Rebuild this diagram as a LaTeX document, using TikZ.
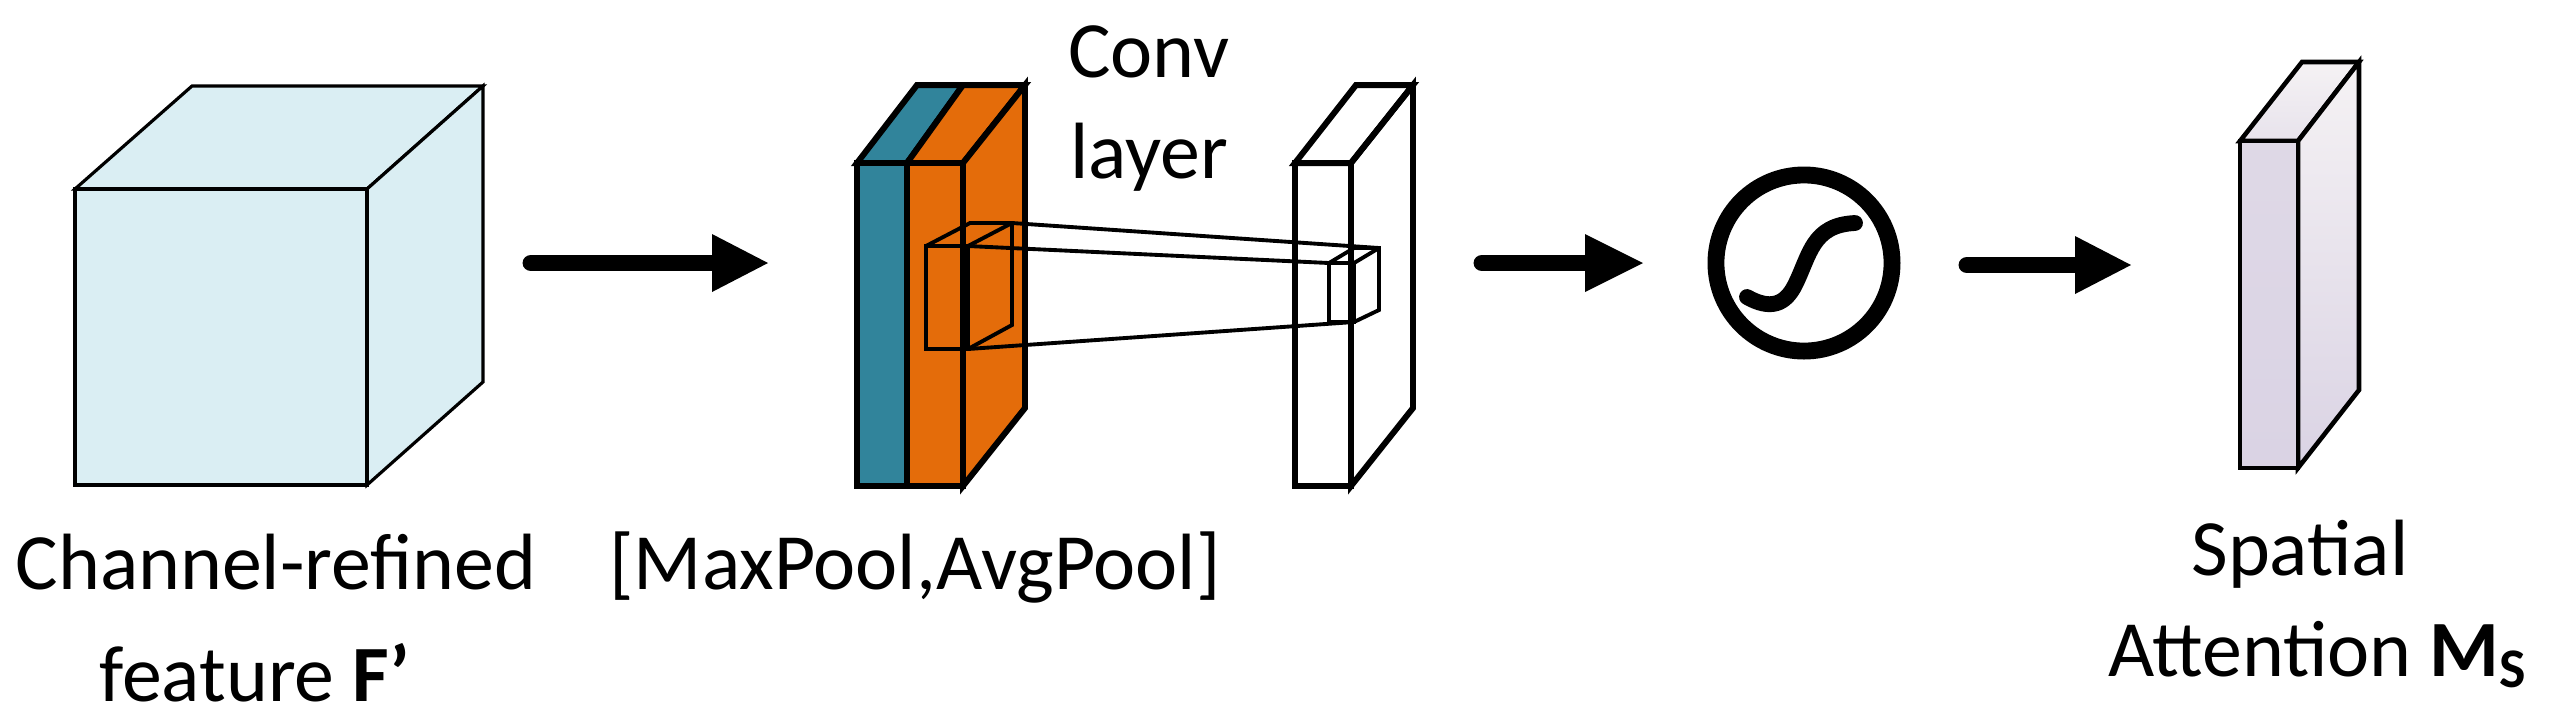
\documentclass[tikz,border=0pt]{standalone}
\usepackage{fontspec}
\setmainfont{Carlito}
\begin{document}
\begin{tikzpicture}[x=0.01cm,y=-0.01cm,line join=miter,
  txt/.style={font=\fontsize{22.7}{28}\selectfont,anchor=base,inner sep=0pt},
  thin3/.style={line width=0.9pt},
  slab/.style={line width=1.7pt},
  kern/.style={line width=1.1pt},
  arr/.style={line width=4.8pt,line cap=round}]
\useasboundingbox (0,0) rectangle (2550,726);
\definecolor{cubec}{HTML}{DAEEF3}
\definecolor{teal}{HTML}{31849B}
\definecolor{orng}{HTML}{E46C0A}
\definecolor{mtop}{HTML}{F5F2F4}
\definecolor{mmid}{HTML}{C8BFD9}
\definecolor{mbot}{HTML}{DAD3E4}
% cube
\draw[thin3,fill=cubec] (75,189) -- (192,86) -- (483,86) -- (367,189) -- cycle;
\draw[thin3,fill=cubec] (367,189) -- (483,86) -- (483,382) -- (367,485) -- cycle;
\draw[thin3,fill=cubec] (75,189) rectangle (367,485);
\node[txt] (l1) at (276,589) {Channel-refined};
\node[txt] (l2) at (255,701) {feature \textbf{F’}};
% arrow 1
\coordinate (a1s) at (531,263); \coordinate (a1e) at (712,263); \coordinate (a1t) at (768,263);
\draw[arr] (a1s) -- (a1e);
\fill (712,234) -- (a1t) -- (712,292) -- cycle;
% pooled slabs
\draw[slab,fill=teal] (857,163) -- (917,85) -- (963,85) -- (907,163) -- cycle;
\draw[slab,fill=orng] (907,163) -- (963,85) -- (1025,85) -- (963,163) -- cycle;
\draw[slab,fill=orng] (963,163) -- (1025,85) -- (1025,408) -- (963,486) -- cycle;
\draw[slab,fill=teal] (857,163) rectangle (907,486);
\draw[slab,fill=orng] (907,163) rectangle (963,486);
\node[txt] (pl) at (915,589) {[MaxPool,AvgPool]};
% output slab
\draw[slab] (1295,163) -- (1356,85) -- (1413,85) -- (1351,163) -- cycle;
\draw[slab] (1351,163) -- (1413,85) -- (1413,408) -- (1351,486) -- cycle;
\draw[slab] (1295,163) rectangle (1351,486);
% kernel
\draw[kern] (926,246) rectangle (968,349);
\draw[kern] (926,246) -- (970,223) -- (1012,223) -- (1012,325) -- (968,349);
\draw[kern] (968,246) -- (1012,223);
\draw[kern] (1329,263) rectangle (1354,322);
\draw[kern] (1329,263) -- (1354,248) -- (1379,248) -- (1379,310) -- (1354,322);
\draw[kern] (1354,263) -- (1379,248);
\draw[kern] (1012,223) -- (1379,248);
\draw[kern] (968,246) -- (1329,263);
\draw[kern] (968,349) -- (1354,322);
\node[txt] (c1) at (1149,77) {Conv};
\node[txt] (c2) at (1149,178) {layer};
% arrow 2
\coordinate (a2s) at (1482,263); \coordinate (a2e) at (1590,263); \coordinate (a2t) at (1643,263);
\draw[arr] (a2s) -- (a2e);
\fill (1585,234) -- (a2t) -- (1585,292) -- cycle;
% sigmoid
\node[draw,circle,line width=4.8pt,minimum size=1.76cm,inner sep=0pt] (sig) at (1804,263) {};
\draw[line width=4.5pt,line cap=round] (1747,297) .. controls (1770,310) and (1785,305) .. (1795,285)
  .. controls (1810,255) and (1812,225) .. (1855,223);
% arrow 3
\coordinate (a3s) at (1967,265); \coordinate (a3e) at (2080,265); \coordinate (a3t) at (2131,265);
\draw[arr] (a3s) -- (a3e);
\fill (2075,236) -- (a3t) -- (2075,294) -- cycle;
% attention map
\shade[top color=mtop,bottom color=mtop!70!mmid,draw=black,line width=1.3pt]
  (2240,141) -- (2302,62) -- (2359,62) -- (2298,141) -- cycle;
\shade[top color=mtop,middle color=mmid,bottom color=mbot,draw=black,line width=1.3pt]
  (2298,141) -- (2359,62) -- (2359,390) -- (2298,468) -- cycle;
\shade[top color=mtop!50!mmid,middle color=mmid,bottom color=mbot,draw=black,line width=1.3pt]
  (2240,141) rectangle (2298,468);
\node[txt] (s1) at (2300,575) {Spatial};
\node[txt] (s2) at (2318,676) {Attention \textbf{M\textsubscript{S}}};
\end{tikzpicture}
\end{document}
